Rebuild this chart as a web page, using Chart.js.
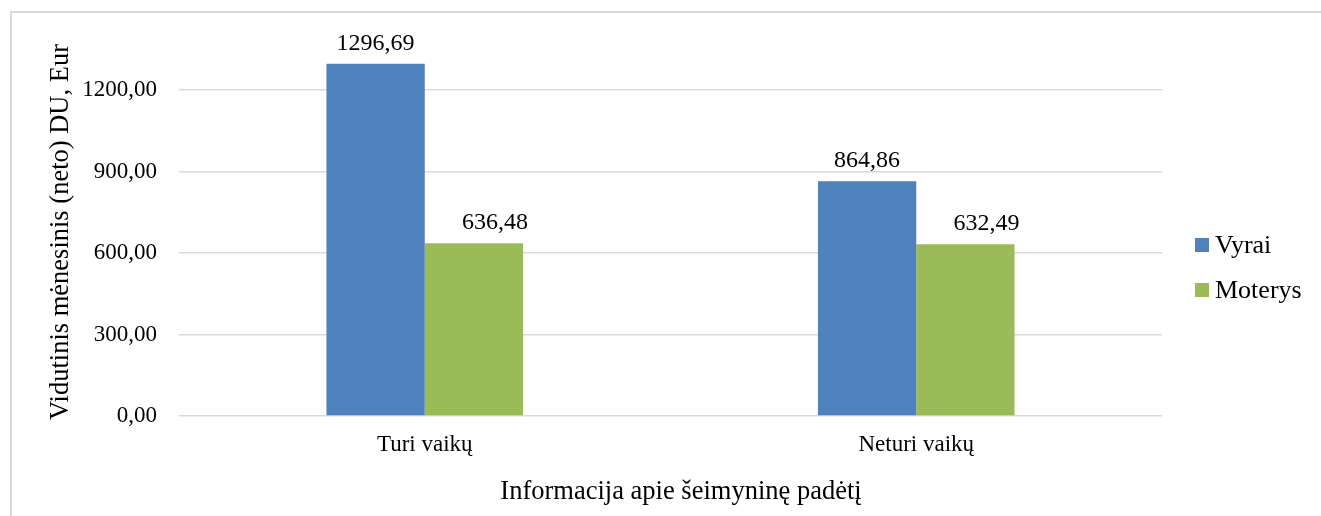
<!DOCTYPE html>
<html lang="lt">
<head>
<meta charset="utf-8">
<title>Vidutinis mėnesinis (neto) DU</title>
<script src="https://cdn.jsdelivr.net/npm/chart.js@4/dist/chart.umd.min.js"></script>
<style>
  html, body { margin: 0; padding: 0; background: #ffffff; overflow: hidden; }
  #chart { display: block; }
</style>
</head>
<body>
<canvas id="chart" width="1321" height="516"></canvas>
<script>
// Categories, series and axis text
const categories = ['Turi vaikų', 'Neturi vaikų'];
const seriesNames = ['Vyrai', 'Moterys'];
const vyrai = [1296.69, 864.86];
const moterys = [636.48, 632.49];
const yTickValues = [0, 300, 600, 900, 1200];
const yAxisTitle = 'Vidutinis mėnesinis (neto) DU, Eur';
const xAxisTitle = 'Informacija apie šeimyninę padėtį';

const SERIF = "'Liberation Serif', 'Times New Roman', serif";
const COLORS = ['#4f81bd', '#9bbb59'];

// Lithuanian number style: comma as decimal separator, two decimals
const fmt = v => Number(v).toFixed(2).replace('.', ',');

// Chart-area frame: only its left and top edges fall inside the canvas
const frame = {
  id: 'frame',
  beforeDraw(chart) {
    const ctx = chart.ctx;
    ctx.save();
    ctx.fillStyle = '#ffffff';
    ctx.fillRect(0, 0, chart.width, chart.height);
    ctx.fillStyle = '#d9d9d9';
    ctx.fillRect(10, 11, 2, chart.height - 11);
    ctx.fillRect(10, 11, chart.width - 10, 2);
    ctx.restore();
  }
};

// Value labels above each bar
const valueLabels = {
  id: 'valueLabels',
  afterDatasetsDraw(chart) {
    const ctx = chart.ctx;
    const shifts = [0, 21];
    ctx.save();
    ctx.font = '24px ' + SERIF;
    ctx.fillStyle = '#000';
    ctx.textAlign = 'center';
    ctx.textBaseline = 'alphabetic';
    chart.data.datasets.forEach((ds, di) => {
      const meta = chart.getDatasetMeta(di);
      meta.data.forEach((bar, i) => {
        ctx.fillText(fmt(ds.data[i]), bar.x + shifts[di], bar.y - 14);
      });
    });
    ctx.restore();
  }
};

// Legend at the right, square swatches
const sideLegend = {
  id: 'sideLegend',
  afterDraw(chart) {
    const ctx = chart.ctx;
    ctx.save();
    ctx.font = '26px ' + SERIF;
    ctx.textAlign = 'left';
    ctx.textBaseline = 'alphabetic';
    chart.data.datasets.forEach((ds, di) => {
      const top = 238 + di * 45;
      ctx.fillStyle = ds.backgroundColor;
      ctx.fillRect(1195, top, 14, 14);
      ctx.fillStyle = '#000';
      ctx.fillText(ds.label, 1215, top + 15);
    });
    ctx.restore();
  }
};

// Axis titles
const axisTitles = {
  id: 'axisTitles',
  afterDraw(chart) {
    const ctx = chart.ctx;
    ctx.save();
    ctx.font = '26.5px ' + SERIF;
    ctx.fillStyle = '#000';
    ctx.textAlign = 'center';
    ctx.textBaseline = 'alphabetic';
    ctx.fillText(xAxisTitle, 681, 499);
    ctx.translate(68, 232);
    ctx.rotate(-Math.PI / 2);
    ctx.fillText(yAxisTitle, 0, 0);
    ctx.restore();
  }
};

new Chart(document.getElementById('chart'), {
  type: 'bar',
  data: {
    labels: categories,
    datasets: [
      { label: seriesNames[0], data: vyrai, backgroundColor: COLORS[0] },
      { label: seriesNames[1], data: moterys, backgroundColor: COLORS[1] }
    ]
  },
  options: {
    responsive: false,
    animation: false,
    devicePixelRatio: 1,
    layout: { padding: { left: 0, right: 159, top: 33, bottom: 0 } },
    datasets: { bar: { categoryPercentage: 0.4, barPercentage: 1.0 } },
    plugins: {
      legend: { display: false },
      tooltip: { enabled: false }
    },
    scales: {
      x: {
        grid: { display: false, drawTicks: false },
        border: { display: false },
        ticks: { color: '#000', font: { family: SERIF, size: 23 }, padding: 15 },
        afterFit(scale) { scale.height = 100; }
      },
      y: {
        min: 0,
        max: 1400,
        grid: { color: '#d9d9d9', lineWidth: 1.5, drawTicks: false },
        border: { display: false },
        ticks: {
          stepSize: 300,
          padding: 22,
          color: '#000',
          font: { family: SERIF, size: 23 },
          callback: v => fmt(v)
        },
        afterBuildTicks(scale) {
          scale.ticks = yTickValues.map(v => ({ value: v }));
        },
        afterFit(scale) { scale.width = 179; }
      }
    }
  },
  plugins: [frame, valueLabels, sideLegend, axisTitles]
});
</script>
</body>
</html>
